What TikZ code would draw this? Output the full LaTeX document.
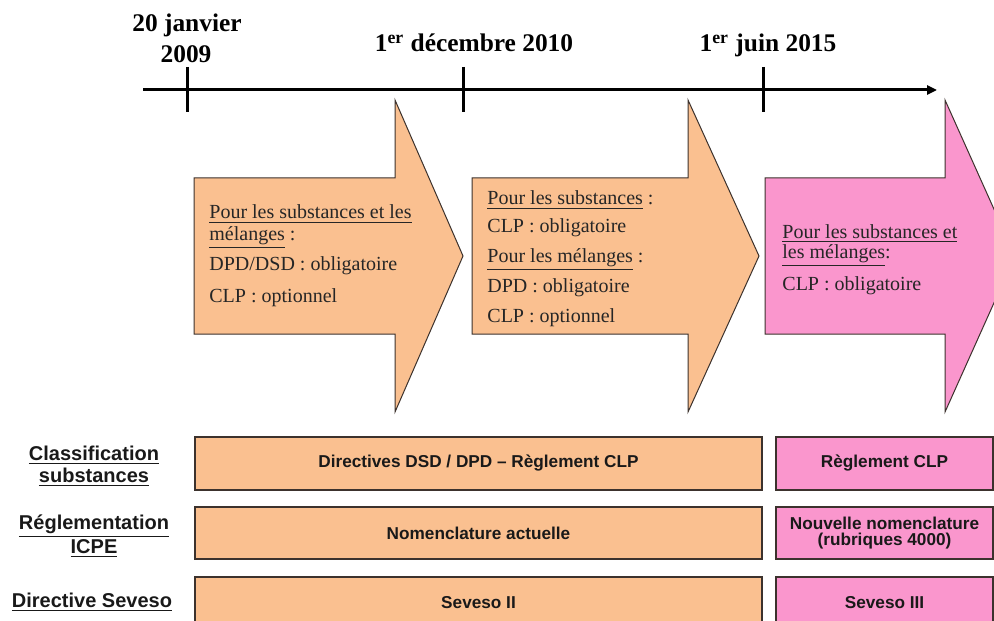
\documentclass[tikz,border=0pt]{standalone}
\usepackage{fontspec}
\setmainfont{Liberation Serif}
\newfontfamily\arialfont{Liberation Sans}
\usetikzlibrary{arrows.meta}
\definecolor{peach}{RGB}{250,192,144}
\definecolor{rose}{RGB}{250,150,205}
\definecolor{edgec}{RGB}{60,50,45}
\begin{document}
\begin{tikzpicture}[x=0.5pt,y=-0.5pt,
  bigarrow/.style={draw=edgec,line width=0.5pt},
  band/.style={draw=edgec,line width=0.6pt},
  tickmark/.style={line width=1.5pt},
  datelbl/.style={font=\fontsize{12.7}{14}\selectfont\bfseries,inner sep=0,anchor=base},
  body/.style={font=\fontsize{10}{12}\selectfont,text=black!85,inner sep=0,anchor=base west},
  rowlbl/.style={font=\arialfont\bfseries\fontsize{10}{11}\selectfont,align=center,inner sep=0,text=black!90},
  bandtxt/.style={font=\arialfont\bfseries\fontsize{8.6}{8.2}\selectfont,align=center,inner sep=0,text=black!90}]
\useasboundingbox (0,0) rectangle (994,620);
\begin{scope}
\clip (0,0) rectangle (994,620);
% timeline
\coordinate (tl0) at (143,90);
\coordinate (tl1) at (937,90);
\draw[tickmark,-{Triangle[length=5pt,width=4.5pt]}] (tl0) -- (tl1);
\coordinate (k1a) at (187,67); \coordinate (k1b) at (187,112);
\coordinate (k2a) at (463,67); \coordinate (k2b) at (463,112);
\coordinate (k3a) at (763,67); \coordinate (k3b) at (763,112);
\draw[tickmark] (k1a) -- (k1b);
\draw[tickmark] (k2a) -- (k2b);
\draw[tickmark] (k3a) -- (k3b);
\node[datelbl] (d1a) at (187,32) {20 janvier};
\node[datelbl] (d1b) at (186,63) {2009};
\node[datelbl] (d2) at (474,52) {1\textsuperscript{er} décembre 2010};
\node[datelbl] (d3) at (768,52) {1\textsuperscript{er} juin 2015};
% big arrows
\draw[bigarrow,fill=peach] (194,178) -- (395,178) -- (395,100) -- (463,256) -- (395,412) -- (395,334) -- (194,334) -- cycle;
\draw[bigarrow,fill=peach] (472,178) -- (688,178) -- (688,100) -- (759,256) -- (688,412) -- (688,334) -- (472,334) -- cycle;
\draw[bigarrow,fill=rose] (765,178) -- (945,178) -- (945,100) -- (1015,256) -- (945,412) -- (945,334) -- (765,334) -- cycle;
% arrow texts
\node[body] (a1l1) at (209,219) {\underline{Pour les substances et les}};
\node[body] (a1l2) at (209,240) {\underline{mélanges} :};
\node[body] (a1l3) at (209,270) {DPD/DSD : obligatoire};
\node[body] (a1l4) at (209,302) {CLP : optionnel};
\node[body] (a2l1) at (487,205) {\underline{Pour les substances} :};
\node[body] (a2l2) at (487,232) {CLP : obligatoire};
\node[body] (a2l3) at (487,262) {\underline{Pour les mélanges} :};
\node[body] (a2l4) at (487,292) {DPD : obligatoire};
\node[body] (a2l5) at (487,322) {CLP : optionnel};
\node[body] (a3l1) at (782,238) {\underline{Pour les substances et}};
\node[body] (a3l2) at (782,258) {\underline{les mélanges}:};
\node[body] (a3l3) at (782,290) {CLP : obligatoire};
% bands
\draw[band,fill=peach] (195,437) rectangle (762,490);
\draw[band,fill=rose] (776,437) rectangle (993,490);
\draw[band,fill=peach] (195,507) rectangle (762,559);
\draw[band,fill=rose] (776,507) rectangle (993,559);
\draw[band,fill=peach] (195,577) rectangle (762,630);
\draw[band,fill=rose] (776,577) rectangle (993,630);
\node[bandtxt] (r1a) at (478.5,463.5) {Directives DSD / DPD – Règlement CLP};
\node[bandtxt] (r1b) at (884.5,463.5) {Règlement CLP};
\node[bandtxt] (r2a) at (478.5,533) {Nomenclature actuelle};
\node[bandtxt] (r2b) at (884.5,533) {Nouvelle nomenclature\\(rubriques 4000)};
\node[bandtxt] (r3a) at (478.5,603) {Seveso II};
\node[bandtxt] (r3b) at (884.5,603) {Seveso III};
% row labels
\node[rowlbl] (lab1) at (94,466) {\underline{Classification}\\\underline{substances}};
\node[rowlbl] (lab2) at (94,536) {\underline{Réglementation}\\\underline{ICPE}};
\node[rowlbl] (lab3) at (92,602) {\underline{Directive Seveso}};
\end{scope}
\end{tikzpicture}
\end{document}
